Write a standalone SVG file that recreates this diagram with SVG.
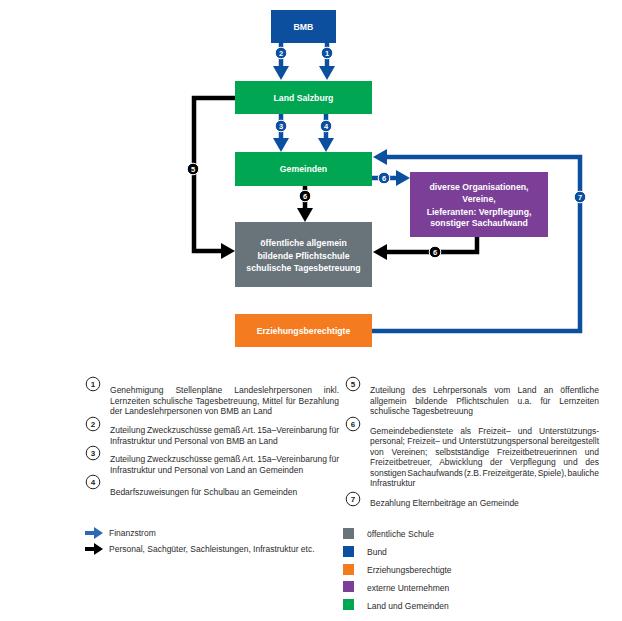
<svg xmlns="http://www.w3.org/2000/svg" width="622" height="621" viewBox="0 0 622 621">
<style>
.nt{font-family:"Liberation Sans",Arial,sans-serif;font-weight:bold;font-size:8.7px;fill:#fff;text-anchor:middle}
.cn{font-family:"Liberation Sans",Arial,sans-serif;font-weight:bold;font-size:7.5px;fill:#fff;text-anchor:middle}
.lt{font-family:"Liberation Sans",Arial,sans-serif;font-size:8.5px;fill:#2b2b2b}
.ln{font-family:"Liberation Sans",Arial,sans-serif;font-weight:bold;font-size:8px;fill:#222;text-anchor:middle}
.fb{fill:none;stroke:#0b4f9e;stroke-width:4.5}
.fk{fill:none;stroke:#000;stroke-width:4.5}
.cb{fill:#0b4f9e;stroke:#fff;stroke-width:1}
.ck{fill:#000;stroke:#fff;stroke-width:1}
.lc{fill:#fff;stroke:#222;stroke-width:1}
</style>
<defs>
<marker id="hb" markerUnits="userSpaceOnUse" markerWidth="16" markerHeight="16" viewBox="0 0 14 16" refX="0" refY="8" orient="auto"><path d="M0,0 L14,8 L0,16 z" fill="#0b4f9e"/></marker>
<marker id="hk" markerUnits="userSpaceOnUse" markerWidth="16" markerHeight="16" viewBox="0 0 14 16" refX="0" refY="8" orient="auto"><path d="M0,0 L14,8 L0,16 z" fill="#000"/></marker>
</defs>
<rect width="622" height="621" fill="#fff"/>

<g id="connectors">
<path class="fb" d="M327,43 V66" marker-end="url(#hb)"/>
<path class="fb" d="M281,43 V66" marker-end="url(#hb)"/>
<path class="fb" d="M281,114 V138" marker-end="url(#hb)"/>
<path class="fb" d="M326,114 V138" marker-end="url(#hb)"/>
<path class="fk" d="M235,98 H194 V251 H221" marker-end="url(#hk)"/>
<path class="fk" d="M305,186 V208" marker-end="url(#hk)"/>
<path class="fb" d="M372,178 H396" marker-end="url(#hb)"/>
<path class="fk" d="M477,237 V252 H387" marker-end="url(#hk)"/>
<path class="fb" d="M372,331 H580 V157 H387" marker-end="url(#hb)"/>
<circle class="cb" cx="281" cy="53" r="5.8"/><text class="cn" x="281" y="55.8">2</text>
<circle class="cb" cx="327" cy="53" r="5.8"/><text class="cn" x="327" y="55.8">1</text>
<circle class="cb" cx="281" cy="126" r="5.8"/><text class="cn" x="281" y="128.8">3</text>
<circle class="cb" cx="326" cy="126" r="5.8"/><text class="cn" x="326" y="128.8">4</text>
<circle class="ck" cx="193" cy="169" r="5.8"/><text class="cn" x="193" y="171.8">5</text>
<circle class="ck" cx="305" cy="196" r="5.8"/><text class="cn" x="305" y="198.8">6</text>
<circle class="cb" cx="384" cy="178" r="5.8"/><text class="cn" x="384" y="180.8">6</text>
<circle class="ck" cx="435" cy="252" r="5.8"/><text class="cn" x="435" y="254.8">6</text>
<circle class="cb" cx="580" cy="197" r="5.8"/><text class="cn" x="580" y="199.8">7</text>
</g>

<g id="bmb"><rect x="271" y="10" width="65" height="33" fill="#0b4f9e"/><text class="nt" x="303.5" y="30">BMB</text></g>
<g id="land"><rect x="235" y="81" width="137" height="33" fill="#00a651"/><text class="nt" x="303.5" y="100.5">Land Salzburg</text></g>
<g id="gemeinden"><rect x="235" y="152" width="137" height="34" fill="#00a651"/><text class="nt" x="303.5" y="172">Gemeinden</text></g>
<g id="schule"><rect x="235" y="222" width="137" height="65" fill="#69737a"/>
<text class="nt" x="303.5" y="246">öffentliche allgemein</text>
<text class="nt" x="303.5" y="258.5">bildende Pflichtschule</text>
<text class="nt" x="303.5" y="270.5">schulische Tagesbetreuung</text></g>
<g id="organisationen"><rect x="410" y="172" width="138" height="65" fill="#7b3f98"/>
<text class="nt" x="479" y="190">diverse Organisationen,</text>
<text class="nt" x="479" y="202">Vereine,</text>
<text class="nt" x="479" y="214.5">Lieferanten: Verpflegung,</text>
<text class="nt" x="479" y="226">sonstiger Sachaufwand</text></g>
<g id="erziehung"><rect x="235" y="314" width="137" height="33" fill="#f47b20"/><text class="nt" x="303.5" y="334">Erziehungsberechtigte</text></g>

<g id="legende-nummern">
<circle class="lc" cx="93" cy="384" r="6.8"/><text class="ln" x="93" y="386.8">1</text>
<text class="lt" x="110" y="393" word-spacing="9.5" textLength="229" lengthAdjust="spacing">Genehmigung Stellenpläne Landeslehrpersonen inkl.</text>
<text class="lt" x="110" y="403.5" word-spacing="0.5" textLength="229" lengthAdjust="spacing">Lernzeiten schulische Tagesbetreuung, Mittel für Bezahlung</text>
<text class="lt" x="110" y="414">der Landeslehrpersonen von BMB an Land</text>
<circle class="lc" cx="93" cy="424" r="6.8"/><text class="ln" x="93" y="426.8">2</text>
<text class="lt" x="110" y="433" word-spacing="-0.5" textLength="229" lengthAdjust="spacing">Zuteilung Zweckzuschüsse gemäß Art. 15a–Vereinbarung für</text>
<text class="lt" x="110" y="443.5">Infrastruktur und Personal von BMB an Land</text>
<circle class="lc" cx="93" cy="453" r="6.8"/><text class="ln" x="93" y="455.8">3</text>
<text class="lt" x="110" y="462" word-spacing="-0.5" textLength="229" lengthAdjust="spacing">Zuteilung Zweckzuschüsse gemäß Art. 15a–Vereinbarung für</text>
<text class="lt" x="110" y="472.5">Infrastruktur und Personal von Land an Gemeinden</text>
<circle class="lc" cx="93" cy="482" r="6.8"/><text class="ln" x="93" y="484.8">4</text>
<text class="lt" x="110" y="495">Bedarfszuweisungen für Schulbau an Gemeinden</text>

<circle class="lc" cx="353" cy="384" r="6.8"/><text class="ln" x="353" y="386.8">5</text>
<text class="lt" x="370" y="393" word-spacing="4.8" textLength="229" lengthAdjust="spacing">Zuteilung des Lehrpersonals vom Land an öffentliche</text>
<text class="lt" x="370" y="403.5" word-spacing="6.4" textLength="229" lengthAdjust="spacing">allgemein bildende Pflichtschulen u.a. für Lernzeiten</text>
<text class="lt" x="370" y="414">schulische Tagesbetreuung</text>
<circle class="lc" cx="353" cy="424" r="6.8"/><text class="ln" x="353" y="426.8">6</text>
<text class="lt" x="370" y="433.5" word-spacing="4.7" textLength="229" lengthAdjust="spacing">Gemeindebedienstete als Freizeit– und Unterstützungs-</text>
<text class="lt" x="370" y="444" textLength="229" lengthAdjust="spacing">personal; Freizeit– und Unterstützungspersonal bereitgestellt</text>
<text class="lt" x="370" y="454.5" word-spacing="5.6" textLength="229" lengthAdjust="spacing">von Vereinen; selbstständige Freizeitbetreuerinnen und</text>
<text class="lt" x="370" y="465" word-spacing="5.2" textLength="229" lengthAdjust="spacing">Freizeitbetreuer, Abwicklung der Verpflegung und des</text>
<text class="lt" x="370" y="475.5" word-spacing="-1.2" textLength="229" lengthAdjust="spacing">sonstigen Sachaufwands (z.B. Freizeitgeräte, Spiele), bauliche</text>
<text class="lt" x="370" y="486">Infrastruktur</text>
<circle class="lc" cx="353" cy="499" r="6.8"/><text class="ln" x="353" y="501.8">7</text>
<text class="lt" x="370" y="506">Bezahlung Elternbeiträge an Gemeinde</text>
</g>

<g id="legende-pfeile">
<path d="M85,533 H94" stroke="#2a6ab4" stroke-width="4" fill="none"/>
<path d="M94,527 L103,533 L94,539 z" fill="#2a6ab4"/>
<text class="lt" x="109" y="536">Finanzstrom</text>
<path d="M85,549 H94" stroke="#000" stroke-width="4" fill="none"/>
<path d="M94,543 L103,549 L94,555 z" fill="#000"/>
<text class="lt" x="109" y="552">Personal, Sachgüter, Sachleistungen, Infrastruktur etc.</text>
</g>

<g id="legende-farben">
<rect x="343" y="528" width="11" height="11" fill="#69737a"/><text class="lt" x="367" y="537">öffentliche Schule</text>
<rect x="343" y="546" width="11" height="11" fill="#0b4f9e"/><text class="lt" x="367" y="555">Bund</text>
<rect x="343" y="564" width="11" height="11" fill="#f47b20"/><text class="lt" x="367" y="573">Erziehungsberechtigte</text>
<rect x="343" y="581" width="11" height="11" fill="#7b3f98"/><text class="lt" x="367" y="591">externe Unternehmen</text>
<rect x="343" y="599" width="11" height="11" fill="#00a651"/><text class="lt" x="367" y="609">Land und Gemeinden</text>
</g>
</svg>
